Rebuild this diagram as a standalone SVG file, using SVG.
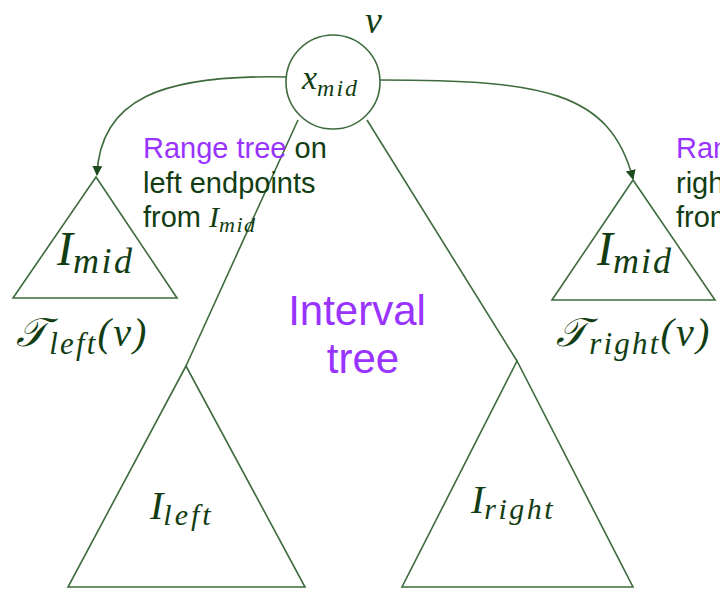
<svg xmlns="http://www.w3.org/2000/svg" width="720" height="589" viewBox="0 0 720 589">
<style>
.ln{fill:none;stroke:#3d6b3d;stroke-width:1.6}
.tri{fill:#fff;stroke:#3d6b3d;stroke-width:1.6}
.m{font-family:"Liberation Serif","DejaVu Serif",serif;font-style:italic;fill:#123d12}
.s{font-family:"Liberation Sans",Arial,sans-serif;font-size:29px;fill:#123d12}
.p{fill:#9933ff}
.big{font-family:"Liberation Sans",Arial,sans-serif;font-size:42px;fill:#9933ff;text-anchor:middle}
</style>
<defs>
<marker id="ah" viewBox="0 0 10 10" refX="9" refY="5" markerWidth="10" markerHeight="10" markerUnits="userSpaceOnUse" orient="auto">
<path d="M0,0 L10,5 L0,10 z" fill="#1e4a1e"/>
</marker>
</defs>
<g id="connectors">
<path class="ln" d="M287,77 C160,74 100,100 97,175" marker-end="url(#ah)"/>
<path class="ln" d="M380,80 C540,80 610,90 633,179" marker-end="url(#ah)"/>
<line class="ln" x1="298" y1="120" x2="186" y2="366"/>
<line class="ln" x1="367" y1="120" x2="517" y2="361"/>
</g>
<g id="root">
<circle cx="333" cy="82" r="47" fill="#fff" stroke="#3d6b3d" stroke-width="1.6"/>
<text class="m" x="302" y="89" font-size="34">x<tspan font-size="24" dy="7" letter-spacing="2">mid</tspan></text>
<text class="m" x="365" y="33" font-size="38">v</text>
</g>
<g id="tleft">
<polygon class="tri" points="96,177 13,298 177,298"/>
<text class="m" x="57" y="265" font-size="48">I<tspan font-size="36" dy="8" letter-spacing="2.5">mid</tspan></text>
<text class="m" x="16" y="346" font-size="40" letter-spacing="2.2">𝒯<tspan font-size="31" dy="8">left</tspan><tspan dy="-8">(v)</tspan></text>
</g>
<g id="tright">
<polygon class="tri" points="633,180 552,300 715,300"/>
<text class="m" x="597" y="265" font-size="48">I<tspan font-size="36" dy="8" letter-spacing="2">mid</tspan></text>
<text class="m" x="556" y="346" font-size="40" letter-spacing="2.2">𝒯<tspan font-size="31" dy="8">right</tspan><tspan dy="-8">(v)</tspan></text>
</g>
<g id="ileft">
<polygon class="tri" points="186,366 68,587 305,587"/>
<text class="m" x="150" y="519" font-size="40">I<tspan font-size="30" dy="6" letter-spacing="3">left</tspan></text>
</g>
<g id="iright">
<polygon class="tri" points="517,361 402,587 633,587"/>
<text class="m" x="471" y="513" font-size="40">I<tspan font-size="30" dy="6" letter-spacing="2.5">right</tspan></text>
</g>
<g id="labels">
<text class="s" x="143" y="158"><tspan class="p">Range tree</tspan> on</text>
<text class="s" x="143" y="193">left endpoints</text>
<text class="s" x="143" y="227">from <tspan class="m" font-size="30">I</tspan><tspan class="m" font-size="22" dy="5" letter-spacing="1.5">mid</tspan></text>
<text class="s" x="676" y="158"><tspan class="p">Range tree</tspan> on</text>
<text class="s" x="676" y="193">right endpoints</text>
<text class="s" x="676" y="227">from <tspan class="m" font-size="30">I</tspan><tspan class="m" font-size="22" dy="5" letter-spacing="1.5">mid</tspan></text>
<text class="big" x="357" y="325">Interval</text>
<text class="big" x="363" y="373">tree</text>
</g>
</svg>
